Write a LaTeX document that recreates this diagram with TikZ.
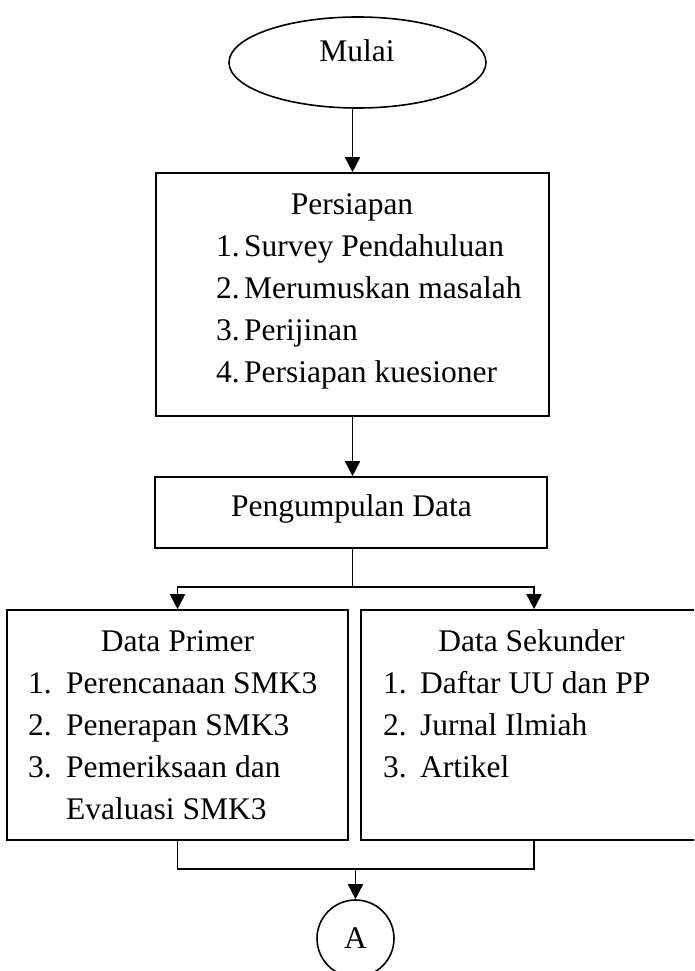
\documentclass[tikz,border=0pt]{standalone}
\usepackage{fontspec}
\setmainfont{Liberation Serif}
\usetikzlibrary{arrows.meta,shapes.geometric}
\tikzset{
  box/.style={draw, line width=1.6pt, inner sep=0pt, rectangle},
  arr/.style={-{Triangle[length=15pt,width=15pt]}, line width=1.6pt},
  ln/.style={line width=1.6pt},
  txt/.style={inner sep=0pt, font=\fontsize{31.5}{42}\selectfont},
}
\begin{document}
\begin{tikzpicture}[x=1pt,y=-1pt]
\useasboundingbox (0,0) rectangle (694,971);
\clip (0,0) rectangle (694,971);
% shapes
\node[draw, line width=1.6pt, ellipse, minimum width=257pt, minimum height=91pt, inner sep=0pt] (mulai) at (357.5,62.5) {};
\node[box, minimum width=393pt, minimum height=243pt] (persiapan) at (352.5,294.5) {};
\node[box, minimum width=392pt, minimum height=71pt] (pengumpulan) at (351,512.5) {};
\node[box, minimum width=341pt, minimum height=230pt] (primer) at (177.5,725) {};
\node[box, minimum width=346pt, minimum height=230pt] (sekunder) at (534,725) {};
\node[draw, line width=1.6pt, circle, minimum size=77pt, inner sep=0pt, txt] (circ) at (355.5,938.5) {A};
% texts
\node[txt, anchor=base] (tmulai) at (357,62) {Mulai};
\node[txt, anchor=base] (tpers) at (352,214) {Persiapan};
\node[txt, anchor=base west] (pn1) at (216,256) {1.};
\node[txt, anchor=base west] (pt1) at (244,256) {Survey Pendahuluan};
\node[txt, anchor=base west] (pn2) at (216,298) {2.};
\node[txt, anchor=base west] (pt2) at (244,298) {Merumuskan masalah};
\node[txt, anchor=base west] (pn3) at (216,340) {3.};
\node[txt, anchor=base west] (pt3) at (244,340) {Perijinan};
\node[txt, anchor=base west] (pn4) at (216,382) {4.};
\node[txt, anchor=base west] (pt4) at (244,382) {Persiapan kuesioner};
\node[txt, anchor=base] (tpeng) at (351.5,516) {Pengumpulan Data};
\node[txt, anchor=base] (tprim) at (177.5,651) {Data Primer};
\node[txt, anchor=base west] (an1) at (28,693) {1.};
\node[txt, anchor=base west] (at1) at (66,693) {Perencanaan SMK3};
\node[txt, anchor=base west] (an2) at (28,735) {2.};
\node[txt, anchor=base west] (at2) at (66,735) {Penerapan SMK3};
\node[txt, anchor=base west] (an3) at (28,777) {3.};
\node[txt, anchor=base west] (at3) at (66,777) {Pemeriksaan dan};
\node[txt, anchor=base west] (at4) at (66,819) {Evaluasi SMK3};
\node[txt, anchor=base] (tsek) at (531.5,651) {Data Sekunder};
\node[txt, anchor=base west] (bn1) at (383,693) {1.};
\node[txt, anchor=base west] (bt1) at (420,693) {Daftar UU dan PP};
\node[txt, anchor=base west] (bn2) at (383,735) {2.};
\node[txt, anchor=base west] (bt2) at (420,735) {Jurnal Ilmiah};
\node[txt, anchor=base west] (bn3) at (383,777) {3.};
\node[txt, anchor=base west] (bt3) at (420,777) {Artikel};
% connectors
\draw[arr] (mulai.south -| persiapan.north) -- (persiapan.north);
\draw[arr] (persiapan.south) -- (persiapan.south |- pengumpulan.north);
\coordinate (br) at (352.5,587);
\draw[ln] (pengumpulan.south -| br) -- (br);
\draw[arr] (br) -| (primer.north);
\draw[arr] (br) -| (sekunder.north);
\coordinate (jn) at (355.5,869);
\draw[ln] (primer.south) |- (jn) -| (sekunder.south);
\draw[arr] (jn) -- (circ.north);
\end{tikzpicture}
\end{document}
